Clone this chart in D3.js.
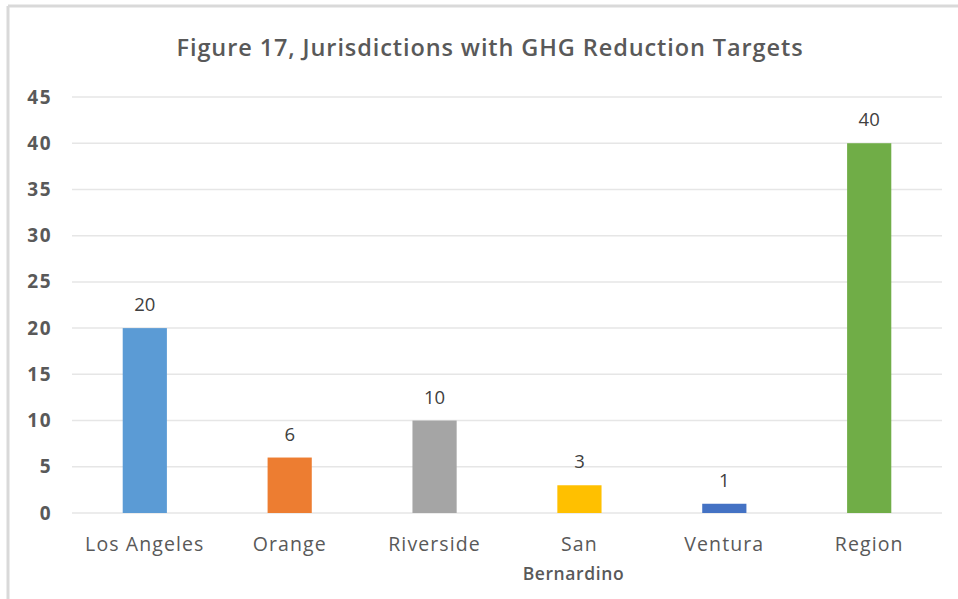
<!DOCTYPE html>
<html>
<head>
<meta charset="utf-8">
<script src="https://cdn.jsdelivr.net/npm/d3@7"></script>
<style>
  body { margin: 0; background: #fff; }
  svg { display: block; font-family: "Open Sans", sans-serif; }
</style>
</head>
<body>
<svg id="chart" width="958" height="599"></svg>
<script>
const categories = ['Los Angeles', 'Orange', 'Riverside', 'San Bernardino', 'Ventura', 'Region'];
const values = [20, 6, 10, 3, 1, 40];
const barColors = ['#5B9BD5', '#ED7D31', '#A5A5A5', '#FFC000', '#4472C4', '#70AD47'];
const yTicks = [0, 5, 10, 15, 20, 25, 30, 35, 40, 45];

const svg = d3.select('#chart');
const width = 958, height = 599;
const margin = { top: 97, right: 16, bottom: 86, left: 72 };

// frame lines from the cropped screenshot
svg.append('line')
  .attr('x1', 8).attr('x2', width).attr('y1', 6).attr('y2', 6)
  .attr('stroke', '#d9d9d9').attr('stroke-width', 3);
svg.append('line')
  .attr('x1', 8).attr('x2', 8).attr('y1', 6).attr('y2', height)
  .attr('stroke', '#d9d9d9').attr('stroke-width', 3);

svg.append('text')
  .attr('x', 490).attr('y', 56)
  .attr('text-anchor', 'middle')
  .attr('font-size', 23.5)
  .attr('font-weight', 600)
  .attr('letter-spacing', 0.9)
  .attr('fill', '#595959')
  .text('Figure 17, Jurisdictions with GHG Reduction Targets');

const x = d3.scaleBand()
  .domain(categories)
  .range([margin.left, width - margin.right])
  .paddingInner(0.695)
  .paddingOuter(0.35);

const y = d3.scaleLinear()
  .domain([0, 45])
  .range([height - margin.bottom, margin.top]);

// gridlines
svg.append('g')
  .selectAll('line')
  .data(yTicks)
  .join('line')
  .attr('x1', margin.left).attr('x2', width - margin.right)
  .attr('y1', d => y(d)).attr('y2', d => y(d))
  .attr('stroke', '#e6e6e6').attr('stroke-width', 1.5);

// y axis labels
const yAxis = svg.append('g')
  .attr('transform', `translate(${margin.left - 20},0)`)
  .call(d3.axisLeft(y).tickValues(yTicks).tickSize(0).tickPadding(0));
yAxis.select('.domain').remove();
yAxis.selectAll('text')
  .attr('font-family', '"Open Sans", sans-serif')
  .attr('font-size', 19)
  .attr('font-weight', 'bold')
  .attr('letter-spacing', 1.5)
  .attr('fill', '#595959');

// bars
svg.append('g')
  .selectAll('rect')
  .data(values)
  .join('rect')
  .attr('x', (d, i) => x(categories[i]))
  .attr('y', d => y(d))
  .attr('width', x.bandwidth())
  .attr('height', d => y(0) - y(d))
  .attr('fill', (d, i) => barColors[i]);

// value labels
svg.append('g')
  .selectAll('text')
  .data(values)
  .join('text')
  .attr('x', (d, i) => x(categories[i]) + x.bandwidth() / 2)
  .attr('y', d => y(d) - 17)
  .attr('text-anchor', 'middle')
  .attr('font-size', 18.5)
  .attr('fill', '#404040')
  .text(d => d);

// x axis labels
const xLabels = svg.append('g')
  .selectAll('text')
  .data(categories)
  .join('text')
  .attr('x', d => x(d) + x.bandwidth() / 2)
  .attr('y', y(0) + 38)
  .attr('text-anchor', 'middle')
  .attr('font-size', 19.5)
  .attr('letter-spacing', 1.1)
  .attr('fill', '#595959');
xLabels.each(function(d) {
  const parts = d === 'San Bernardino' ? ['San', 'Bernardino'] : [d];
  const t = d3.select(this);
  parts.forEach((p, i) => {
    t.append('tspan')
      .attr('x', t.attr('x') - (i > 0 ? 6 : 0))
      .attr('dy', i === 0 ? 0 : 29)
      .attr('font-weight', i > 0 ? 600 : null)
      .attr('font-size', i > 0 ? 17.5 : null)
      .attr('letter-spacing', i > 0 ? 0.6 : null)
      .text(p);
  });
});
</script>
</body>
</html>
